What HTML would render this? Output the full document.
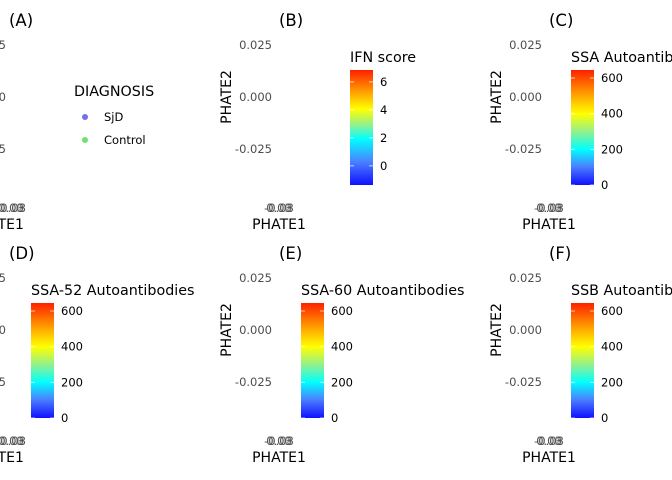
<!DOCTYPE html>
<html><head><meta charset="utf-8">
<style>
body{margin:0;background:#fff;}
svg{display:block;font-family:"DejaVu Sans","Liberation Sans",sans-serif;}
.tick{fill:#4d4d4d;font-size:11.5px;}
.ax{fill:#000;font-size:14px;}
.ttl{fill:#000;font-size:16.5px;}
.leg{fill:#000;font-size:14.3px;}
.lt{fill:#000;font-size:11.5px;}
</style></head>
<body>
<svg id="c" width="672" height="480" viewBox="0 0 672 480">
<defs>
<linearGradient id="gIFN" x1="0" y1="1" x2="0" y2="0">
<stop offset="0" stop-color="#1010ff"/><stop offset="0.2" stop-color="#4a80ff"/><stop offset="0.4" stop-color="#00ffff"/><stop offset="0.52" stop-color="#90f090"/><stop offset="0.66" stop-color="#ffff00"/><stop offset="0.82" stop-color="#ff9900"/><stop offset="1" stop-color="#ff2000"/>
</linearGradient>
<linearGradient id="gSSA" x1="0" y1="1" x2="0" y2="0">
<stop offset="0" stop-color="#1010ff"/><stop offset="0.16" stop-color="#4a80ff"/><stop offset="0.31" stop-color="#00ffff"/><stop offset="0.46" stop-color="#90f090"/><stop offset="0.62" stop-color="#ffff00"/><stop offset="0.8" stop-color="#ff9900"/><stop offset="1" stop-color="#ff2000"/>
</linearGradient>
</defs>
</svg>
<script>
const panelLabels=["(A)","(B)","(C)","(D)","(E)","(F)"];
const yTicks=["0.025","0.000","-0.025"];
const yTickVals=[0.025,0,-0.025];
const legendTitles=["IFN score","SSA Autoantibodies","SSA-52 Autoantibodies","SSA-60 Autoantibodies","SSB Autoantibodies"];
const ifnTicks=[6,4,2,0];
const ifnRange=[-1.37,6.85];
const abTicks=[600,400,200,0];
const abRange=[0,645];
const diagCats=["SjD","Control"];
const diagColors=["#7070f0","#70e070"];

const svg=document.getElementById('c');
const NS='http://www.w3.org/2000/svg';
function mk(tag,attrs,txt){const e=document.createElementNS(NS,tag);for(const k in attrs)e.setAttribute(k,attrs[k]);if(txt!==undefined)e.textContent=txt;svg.appendChild(e);return e;}

const ox=[0,270,540,0,270,540];
const oy=[0,0,0,233,233,233];
function yScale(v){return 97-v*2080;}

for(let i=0;i<6;i++){
  const x0=ox[i], y0=oy[i];
  let t=mk('text',{x:(i%3===0?9:x0+9),y:y0+26,class:'ttl'},panelLabels[i]);
  
  
  const tickX=(i%3===0?6:x0+2);
  for(let k=0;k<yTicks.length;k++){
    const yt=mk('text',{x:tickX,y:y0+yScale(yTickVals[k])+4,class:'tick','text-anchor':'end'},yTicks[k]);
    
    
  }
  if(i%3!==0){
    const yl=mk('text',{x:0,y:0,class:'ax','text-anchor':'middle',transform:`translate(${x0-39},${y0+97}) rotate(-90)`},'PHATE2');
    
    
  }
  const cx=(i%3===0?11:x0+9);
  ["-0.08","0.00","0.03","-0.03"].forEach((s,j)=>{
    const xt=mk('text',{x:cx,y:y0+212,class:'tick','text-anchor':'middle','fill-opacity':0.75},s);
    
    
  });
  const xl=mk('text',{x:(i%3===0?-3:x0+9),y:y0+229,class:'ax','text-anchor':'middle'},'PHATE1');
  
  
}

let lt=mk('text',{x:74,y:96,class:'leg'},'DIAGNOSIS');


diagCats.forEach((c,j)=>{
  const d=mk('circle',{cx:85,cy:117+j*23,r:3,fill:diagColors[j]});
  
  
  const tx=mk('text',{x:104,y:121+j*23,class:'lt'},c);
  
  
});

const cbX=[350,571,31,301,571];
const cbY=[70,70,303,303,303];
for(let b=0;b<5;b++){
  const x=cbX[b], top=cbY[b], h=115;
  const ticks=b===0?ifnTicks:abTicks, rng=b===0?ifnRange:abRange;
  const sc=v=>top+h-(v-rng[0])/(rng[1]-rng[0])*h;
  const ti=mk('text',{x:x,y:top-8,class:'leg'},legendTitles[b]);
  
  
  const r=mk('rect',{x:x,y:top,width:23,height:h,fill:b===0?'url(#gIFN)':'url(#gSSA)'});
  
  
  ticks.forEach(v=>{
    const yy=sc(v);
    mk('line',{x1:x,x2:x+4,y1:yy,y2:yy,stroke:'#fff','stroke-opacity':0.7});
    mk('line',{x1:x+19,x2:x+23,y1:yy,y2:yy,stroke:'#fff','stroke-opacity':0.7});
    const tl=mk('text',{x:x+30,y:yy+4,class:'lt'},String(v));
    
    
  });
}
</script>
</body></html>
